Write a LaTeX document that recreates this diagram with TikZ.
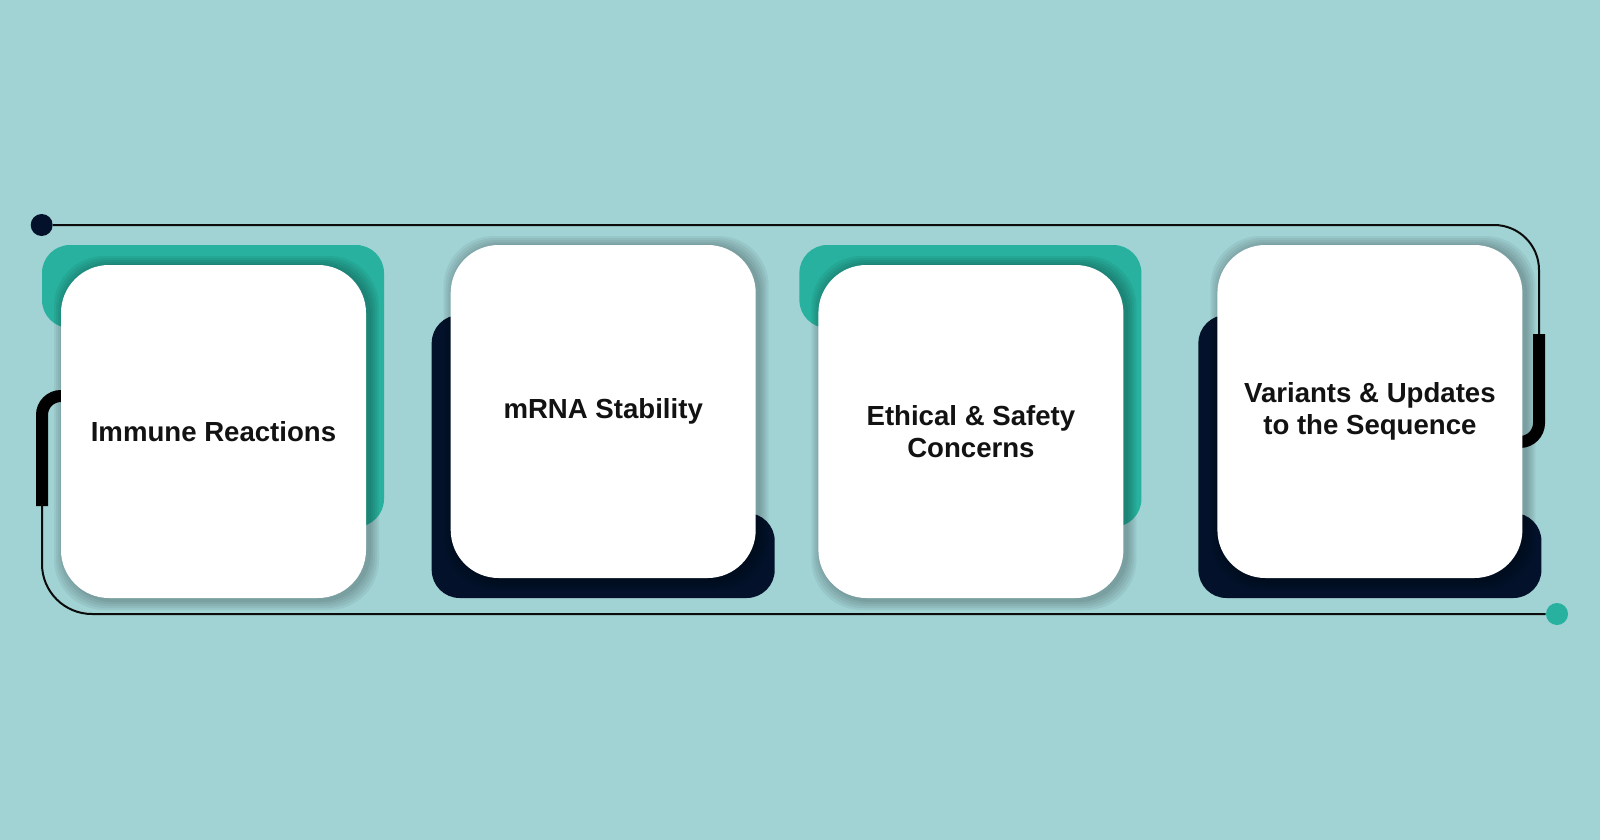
\documentclass[tikz,border=0pt]{standalone}
\usepackage{fontspec}
\newfontfamily\cardfont{Liberation Sans}
\usetikzlibrary{positioning,calc}
\definecolor{bgteal}{HTML}{A1D2D4}
\definecolor{accent}{HTML}{27B19E}
\definecolor{navy}{HTML}{03122A}
\definecolor{wire}{HTML}{0B0B0B}
\pgfdeclarelayer{canvas}
\pgfdeclarelayer{behind}
\pgfsetlayers{canvas,behind,main}
\tikzset{
  card/.style      = {rectangle, rounded corners=24pt, fill=white, minimum width=152.5pt, minimum height=166.5pt, align=center, inner sep=0pt, outer sep=0pt, text=black!93, font=\cardfont\bfseries\fontsize{13.8}{16}\selectfont},
  haze/.style      = {fill=black, opacity=0.05, rounded corners=25pt},
  plate/.style     = {rounded corners=14pt},
  thinline/.style  = {draw=wire, line width=1pt},
  thickline/.style = {draw=black, line width=6pt},
  dot/.style       = {circle, inner sep=0pt, minimum size=11pt}
}
\begin{document}
\begin{tikzpicture}[x=0.5pt, y=-0.5pt]
\useasboundingbox (0,0) rectangle (1600,840);
\begin{pgfonlayer}{canvas}
\fill[bgteal] (0,0) rectangle (1600,840);
\end{pgfonlayer}


% Cards
\node[card] (immune) at (213.5,431.5) {Immune Reactions};
\node[card, right=42.35pt of immune, yshift=10pt] (stability) {mRNA Stability};
\node[card, right=31.35pt of stability, yshift=-10pt] (ethics) {Ethical \& Safety\\Concerns};
\node[card, right=47pt of ethics, yshift=10pt] (variants) {Variants \& Updates\\to the Sequence};


% End dots
\node[dot, fill=navy] (start) at (41.7,225) {};
\node[dot, fill=accent] (finish) at (1557,614) {};


% Wire bends
\coordinate (rtop) at (1539,336);
\coordinate (rtick) at (1539,334);
\coordinate (rbot) at (1505,442);
\coordinate (ltick) at (42,506);
\coordinate (ltop) at (75,396);


\begin{pgfonlayer}{behind}
% Back plates
\fill[accent, plate] ([shift={(60,63)}]immune.north west) -- ([shift={(-19,63)}]immune.north west) -- ([shift={(-19,-20)}]immune.north west) -- ([shift={(18,-20)}]immune.north east) -- ([shift={(18,-71)}]immune.south east) -- ([shift={(-150,-71)}]immune.south east) -- ([shift={(140,63)}]immune.north west) -- cycle;
\fill[navy, plate] ([shift={(60,20)}]stability.south west) -- ([shift={(-19,20)}]stability.south west) -- ([shift={(-19,70)}]stability.north west) -- ([shift={(150,70)}]stability.north west) -- ([shift={(-150,-65)}]stability.south east) -- ([shift={(19,-65)}]stability.south east) -- ([shift={(19,20)}]stability.south east) -- cycle;
\fill[accent, plate] ([shift={(60,63)}]ethics.north west) -- ([shift={(-19,63)}]ethics.north west) -- ([shift={(-19,-20)}]ethics.north west) -- ([shift={(18,-20)}]ethics.north east) -- ([shift={(18,-71)}]ethics.south east) -- ([shift={(-150,-71)}]ethics.south east) -- ([shift={(140,63)}]ethics.north west) -- cycle;
\fill[navy, plate] ([shift={(60,20)}]variants.south west) -- ([shift={(-19,20)}]variants.south west) -- ([shift={(-19,70)}]variants.north west) -- ([shift={(150,70)}]variants.north west) -- ([shift={(-150,-65)}]variants.south east) -- ([shift={(19,-65)}]variants.south east) -- ([shift={(19,20)}]variants.south east) -- cycle;


% Soft shadows
\foreach \c in {immune,stability,ethics,variants}
  \foreach \s in {2,4,6,8,10}
    \fill[haze] ([shift={(-\s+3,-\s+1)}]\c.north west) rectangle ([shift={(\s+3,\s+2)}]\c.south east);


% Wires
\draw[thinline, rounded corners=22.5pt] (start) -| (rtop);
\draw[thickline, rounded corners=9.5pt] (rtick) |- (rbot);
\draw[thickline, rounded corners=9.5pt] (ltick) |- (ltop);
\draw[thinline, rounded corners=25pt] ([yshift=1pt]ltick) |- (finish);
\end{pgfonlayer}


\end{tikzpicture}
\end{document}
